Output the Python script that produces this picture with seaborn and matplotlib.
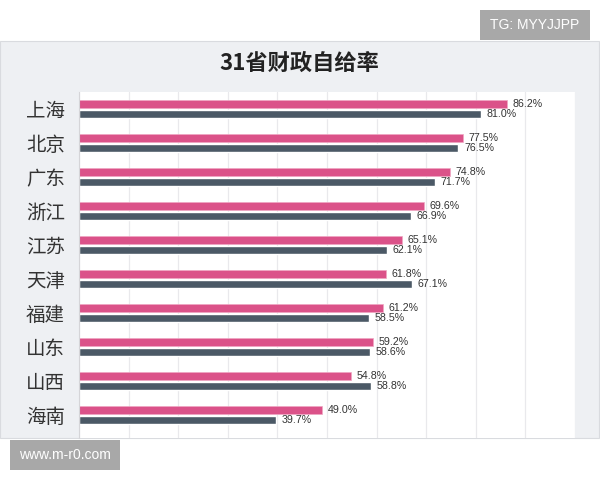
import pandas as pd
import matplotlib
matplotlib.use('Agg')
import matplotlib.pyplot as plt
from matplotlib.patches import Rectangle
import seaborn as sns

# Data
provinces = ['上海', '北京', '广东', '浙江', '江苏', '天津', '福建', '山东', '山西', '海南']
rate_a = [86.2, 77.5, 74.8, 69.6, 65.1, 61.8, 61.2, 59.2, 54.8, 49.0]
rate_b = [81.0, 76.5, 71.7, 66.9, 62.1, 67.1, 58.5, 58.6, 58.8, 39.7]
series_names = ['A', 'B']
x_ticks = list(range(0, 101, 10))

pink = '#DB5289'
slate = '#4B5966'

sns.set_theme(style='white')
plt.rcParams['font.family'] = ['Noto Sans CJK SC', 'DejaVu Sans']

# long table for seaborn
df = pd.DataFrame({
    '省份': provinces * 2,
    '财政自给率': rate_a + rate_b,
    '系列': [series_names[0]] * len(provinces) + [series_names[1]] * len(provinces),
})

fig = plt.figure(figsize=(6, 4.8), dpi=100)
fig.patch.set_facecolor('white')

# grey card behind the chart
fig.patches.append(Rectangle((0.0, 42 / 480), 599 / 600, (438 - 41) / 480,
                             transform=fig.transFigure, facecolor='#EEF0F3',
                             edgecolor='#D9DBDF', linewidth=0.8, zorder=-10))

ax = fig.add_axes([79 / 600, 42 / 480, 496 / 600, (438 - 92) / 480])
ax.set_facecolor('white')

sns.barplot(data=df, y='省份', x='财政自给率', hue='系列', orient='h',
            palette=[pink, slate], saturation=1, width=0.59, gap=0.2, ax=ax,
            order=provinces, hue_order=series_names)

# light pink rim on the pink bars
for patch in ax.containers[0]:
    patch.set_edgecolor('#F0A6C2')
    patch.set_linewidth(0.5)

# value labels
for c in ax.containers:
    ax.bar_label(c, fmt='{:.1f}%', padding=4, fontsize=7.7, color='#333333',
                 family=['Liberation Sans', 'DejaVu Sans'])

ax.set_xlim(0, 100)
ax.set_ylim(9.68, -0.5)
ax.set_xticks(x_ticks)
ax.tick_params(axis='x', length=0, labelbottom=False)
ax.tick_params(axis='y', length=0, pad=10, labelsize=14, labelcolor='#333333')
ax.xaxis.grid(True, color='#E9E9EC', linewidth=0.9)
ax.set_axisbelow(True)
ax.set_xlabel('')
ax.set_ylabel('')
for side in ['top', 'right', 'bottom']:
    ax.spines[side].set_visible(False)
ax.spines['left'].set_color('#D5D5D8')
ax.spines['left'].set_linewidth(0.8)
if ax.get_legend() is not None:
    ax.get_legend().remove()

# title
fig.text(299 / 600, 1 - 63 / 480, '31省财政自给率', ha='center', va='center',
         fontsize=16, color='#222222', fontweight='bold')

# watermark boxes
fig.patches.append(Rectangle((480 / 600, 1 - 40 / 480), 110 / 600, 30 / 480,
                             transform=fig.transFigure, facecolor='#A8A8A8',
                             edgecolor='none', zorder=5))
fig.text(535 / 600, 1 - 25 / 480, 'TG: MYYJJPP', ha='center', va='center',
         fontsize=10, color='white', family=['Liberation Sans', 'DejaVu Sans'], zorder=6)
fig.patches.append(Rectangle((10 / 600, 1 - 470 / 480), 110 / 600, 30 / 480,
                             transform=fig.transFigure, facecolor='#A8A8A8',
                             edgecolor='none', zorder=5))
fig.text(65 / 600, 1 - 455 / 480, 'www.m-r0.com', ha='center', va='center',
         fontsize=10, color='white', family=['Liberation Sans', 'DejaVu Sans'], zorder=6)

fig.savefig('out.png', dpi=100)
